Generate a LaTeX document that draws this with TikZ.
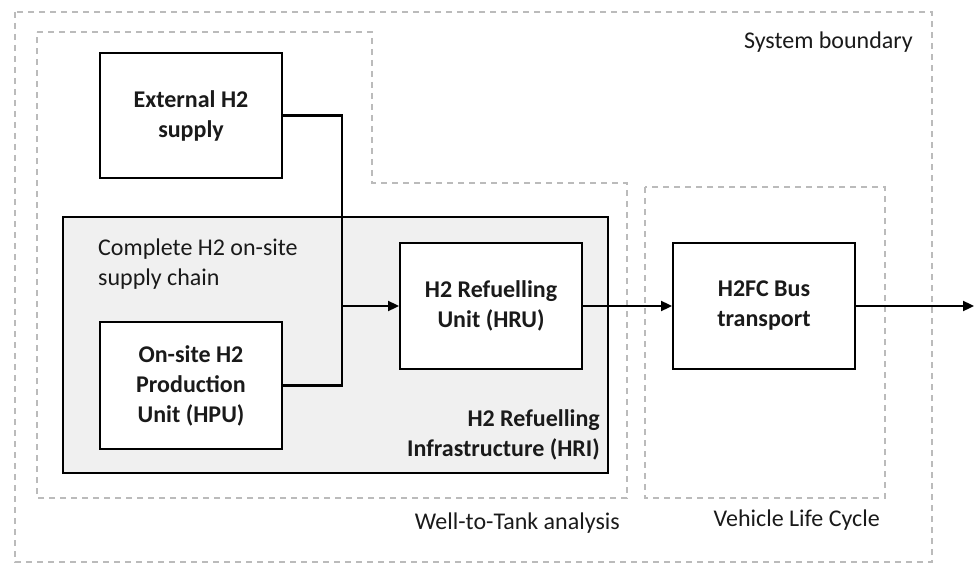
\documentclass[tikz,border=0pt]{standalone}
\usepackage{fontspec}
\setmainfont{Carlito}
\usetikzlibrary{arrows.meta}
\definecolor{dashgray}{HTML}{BBBBBB}
\definecolor{hrigray}{HTML}{F0F0F0}
\definecolor{txt}{HTML}{1A1A1A}
\tikzset{
  bnd/.style={draw=dashgray, line width=1.4pt, dash pattern=on 6pt off 5pt},
  unitbox/.style={draw=black, line width=2pt, fill=white, minimum width=182pt, minimum height=126pt, align=center, font=\fontsize{24}{30}\selectfont\bfseries, text=txt, inner sep=0pt},
  lbl/.style={font=\fontsize{24}{30}\selectfont, text=txt, inner sep=0pt},
  conn/.style={draw=black, line width=2.3pt},
  arr/.style={conn, -{Triangle[length=11pt, width=10pt]}}
}
\begin{document}
\begin{tikzpicture}[x=1pt, y=-1pt]
\useasboundingbox (0,0) rectangle (975,567);
% system boundary
\draw[bnd] (15,12) rectangle (932,562);
\node[lbl, anchor=east] (sys) at (913,42) {System boundary};
% well-to-tank boundary
\draw[bnd] (37,32) -- (372,32) -- (372,183) -- (627,183) -- (627,498) -- (37,498) -- cycle;
\node[lbl, anchor=east] (wtt) at (620,523) {Well-to-Tank analysis};
% vehicle life cycle boundary
\draw[bnd] (645,187) rectangle (885,498);
\node[lbl, anchor=east] (vlc) at (880,520) {Vehicle Life Cycle};
% HRI
\draw[draw=black, line width=2pt, fill=hrigray] (63,217) rectangle (608,473);
\node[lbl, anchor=north west, align=left] (chain) at (98,239) {Complete H2 on-site\\supply chain};
\node[lbl, anchor=south east, align=right, font=\fontsize{24}{30}\selectfont\bfseries] (hri) at (600,460) {H2 Refuelling\\Infrastructure (HRI)};
% units
\node[unitbox, minimum height=125pt] (ext) at (191,115.5) {External H2\\supply};
\node[unitbox, minimum height=127pt] (hpu) at (191,385.5) {On-site H2\\Production\\Unit (HPU)};
\node[unitbox] (hru) at (491,306) {H2 Refuelling\\Unit (HRU)};
\node[unitbox] (bus) at (764,306) {H2FC Bus\\transport};
% connectors
\coordinate (jn) at (342,306);
\coordinate (out) at (974,306);
\draw[conn] (ext.east) -| (jn);
\draw[conn] (hpu.east) -| (jn);
\draw[arr] (jn) -- (hru.west);
\draw[arr] (hru.east) -- (bus.west);
\draw[arr] (bus.east) -- (out);
\end{tikzpicture}
\end{document}
